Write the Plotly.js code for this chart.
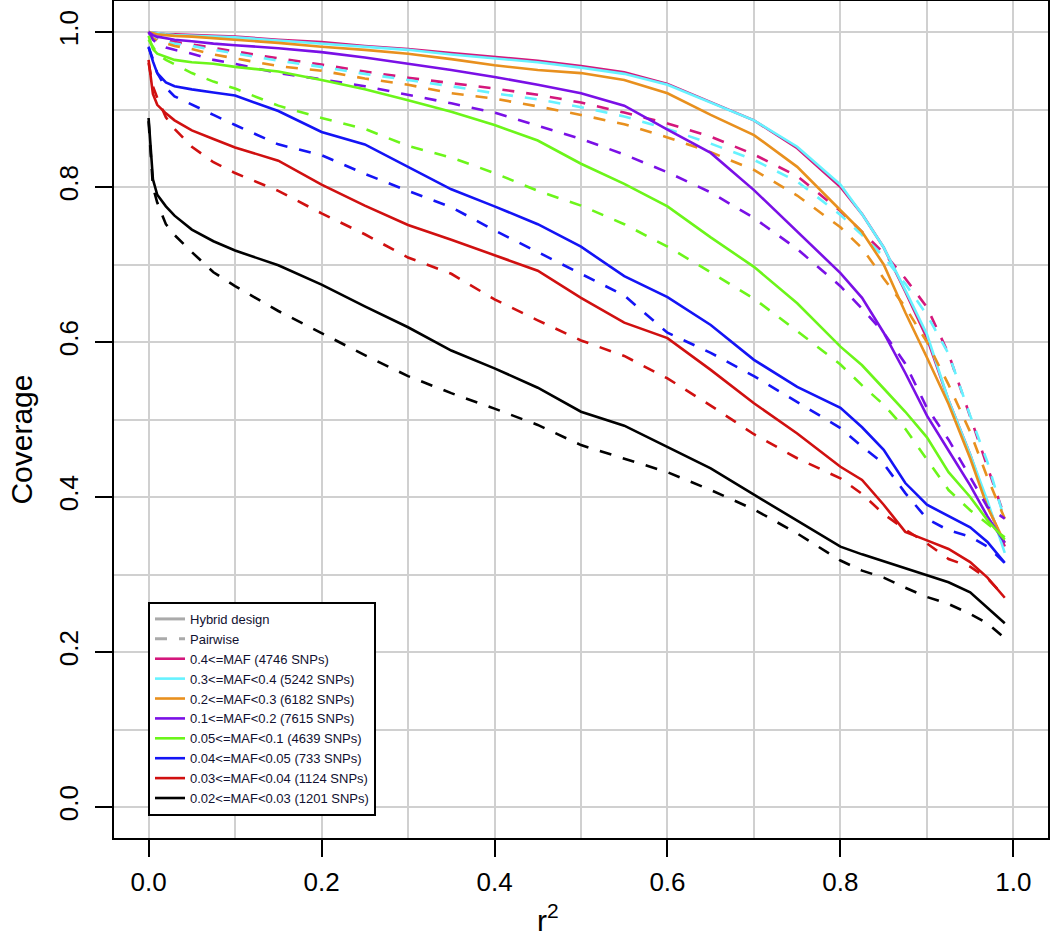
<!DOCTYPE html>
<html>
<head>
<meta charset="utf-8">
<script src="https://cdn.plot.ly/plotly-3.0.1.min.js"></script>
<style>
html,body{margin:0;padding:0;background:#ffffff;}
#chart{width:1050px;height:942px;}
</style>
</head>
<body>
<div id="chart"></div>
<script>
// r^2 threshold values (x axis)
const r2 = [0, 0.005, 0.01, 0.02, 0.03, 0.05, 0.075, 0.1, 0.15, 0.2, 0.25, 0.3, 0.35, 0.4, 0.45, 0.5, 0.55, 0.6, 0.65, 0.7, 0.75, 0.8, 0.825, 0.85, 0.875, 0.9, 0.925, 0.95, 0.97, 0.99];

// Legend labels
const mafLabels = [
  "0.4<=MAF (4746 SNPs)",
  "0.3<=MAF<0.4 (5242 SNPs)",
  "0.2<=MAF<0.3 (6182 SNPs)",
  "0.1<=MAF<0.2 (7615 SNPs)",
  "0.05<=MAF<0.1 (4639 SNPs)",
  "0.04<=MAF<0.05 (733 SNPs)",
  "0.03<=MAF<0.04 (1124 SNPs)",
  "0.02<=MAF<0.03 (1201 SNPs)"
];
const designLabels = ["Hybrid design", "Pairwise"];

// Coverage, Hybrid design (solid lines)
const hybrid_maf40 = [1.0, 0.999, 0.998, 0.997, 0.997, 0.996, 0.995, 0.994, 0.990, 0.987, 0.982, 0.978, 0.973, 0.968, 0.963, 0.956, 0.948, 0.933, 0.910, 0.886, 0.850, 0.800, 0.765, 0.722, 0.665, 0.605, 0.525, 0.455, 0.390, 0.336];
const hybrid_maf30 = [1.0, 0.999, 0.998, 0.997, 0.996, 0.995, 0.994, 0.993, 0.989, 0.985, 0.981, 0.977, 0.971, 0.966, 0.961, 0.954, 0.946, 0.932, 0.909, 0.886, 0.852, 0.803, 0.765, 0.722, 0.667, 0.610, 0.525, 0.455, 0.395, 0.328];
const hybrid_maf20 = [1.0, 0.998, 0.997, 0.996, 0.995, 0.994, 0.992, 0.990, 0.986, 0.981, 0.977, 0.972, 0.965, 0.957, 0.951, 0.947, 0.938, 0.921, 0.893, 0.867, 0.826, 0.770, 0.742, 0.700, 0.638, 0.580, 0.520, 0.450, 0.387, 0.341];
const hybrid_maf10 = [1.0, 0.996, 0.994, 0.992, 0.990, 0.988, 0.985, 0.983, 0.979, 0.974, 0.967, 0.959, 0.951, 0.942, 0.932, 0.921, 0.905, 0.874, 0.844, 0.796, 0.742, 0.689, 0.657, 0.612, 0.560, 0.505, 0.460, 0.415, 0.375, 0.341];
const hybrid_maf05 = [0.995, 0.978, 0.972, 0.968, 0.964, 0.961, 0.959, 0.955, 0.949, 0.938, 0.926, 0.912, 0.897, 0.880, 0.860, 0.830, 0.804, 0.775, 0.735, 0.697, 0.650, 0.594, 0.570, 0.540, 0.510, 0.477, 0.432, 0.400, 0.370, 0.345];
const hybrid_maf04 = [0.981, 0.962, 0.947, 0.935, 0.930, 0.926, 0.922, 0.918, 0.898, 0.871, 0.855, 0.826, 0.797, 0.775, 0.752, 0.723, 0.685, 0.658, 0.622, 0.577, 0.542, 0.515, 0.490, 0.461, 0.418, 0.390, 0.375, 0.361, 0.342, 0.315];
const hybrid_maf03 = [0.964, 0.920, 0.906, 0.895, 0.886, 0.873, 0.862, 0.851, 0.834, 0.803, 0.776, 0.751, 0.732, 0.712, 0.692, 0.657, 0.625, 0.605, 0.564, 0.521, 0.482, 0.439, 0.422, 0.390, 0.355, 0.344, 0.333, 0.316, 0.296, 0.270];
const hybrid_maf02 = [0.889, 0.810, 0.790, 0.775, 0.763, 0.745, 0.730, 0.718, 0.699, 0.674, 0.646, 0.619, 0.589, 0.566, 0.541, 0.510, 0.492, 0.465, 0.437, 0.403, 0.370, 0.336, 0.326, 0.317, 0.308, 0.300, 0.290, 0.277, 0.257, 0.237];

// Coverage, Pairwise (dashed lines)
const pairwise_maf40 = [1.0, 0.994, 0.992, 0.989, 0.987, 0.984, 0.979, 0.975, 0.966, 0.958, 0.949, 0.941, 0.934, 0.927, 0.919, 0.909, 0.896, 0.882, 0.865, 0.842, 0.814, 0.769, 0.742, 0.715, 0.682, 0.645, 0.585, 0.503, 0.437, 0.374];
const pairwise_maf30 = [1.0, 0.993, 0.990, 0.987, 0.985, 0.982, 0.977, 0.972, 0.963, 0.955, 0.946, 0.938, 0.930, 0.921, 0.913, 0.903, 0.891, 0.875, 0.856, 0.835, 0.807, 0.764, 0.738, 0.710, 0.675, 0.635, 0.585, 0.505, 0.445, 0.370];
const pairwise_maf20 = [1.0, 0.992, 0.989, 0.985, 0.982, 0.978, 0.971, 0.966, 0.956, 0.950, 0.940, 0.932, 0.921, 0.914, 0.904, 0.893, 0.881, 0.864, 0.845, 0.822, 0.789, 0.748, 0.721, 0.682, 0.645, 0.600, 0.545, 0.484, 0.425, 0.372];
const pairwise_maf10 = [1.0, 0.990, 0.985, 0.980, 0.977, 0.972, 0.964, 0.959, 0.947, 0.939, 0.930, 0.919, 0.908, 0.896, 0.879, 0.862, 0.842, 0.819, 0.793, 0.760, 0.720, 0.672, 0.643, 0.612, 0.572, 0.515, 0.474, 0.426, 0.387, 0.372];
const pairwise_maf05 = [0.990, 0.980, 0.972, 0.964, 0.958, 0.947, 0.936, 0.927, 0.905, 0.889, 0.875, 0.853, 0.838, 0.818, 0.795, 0.776, 0.752, 0.723, 0.690, 0.656, 0.614, 0.571, 0.544, 0.519, 0.488, 0.448, 0.409, 0.383, 0.366, 0.348];
const pairwise_maf04 = [0.980, 0.965, 0.947, 0.928, 0.917, 0.906, 0.893, 0.880, 0.855, 0.841, 0.817, 0.795, 0.774, 0.744, 0.716, 0.689, 0.660, 0.612, 0.586, 0.556, 0.523, 0.489, 0.465, 0.443, 0.405, 0.372, 0.357, 0.349, 0.336, 0.315];
const pairwise_maf03 = [0.960, 0.930, 0.915, 0.890, 0.875, 0.852, 0.832, 0.818, 0.795, 0.766, 0.739, 0.709, 0.688, 0.655, 0.628, 0.602, 0.582, 0.553, 0.518, 0.481, 0.450, 0.424, 0.404, 0.378, 0.358, 0.340, 0.320, 0.310, 0.295, 0.271];
const pairwise_maf02 = [0.885, 0.800, 0.780, 0.752, 0.738, 0.716, 0.690, 0.672, 0.640, 0.611, 0.583, 0.556, 0.534, 0.514, 0.493, 0.467, 0.450, 0.432, 0.409, 0.384, 0.353, 0.318, 0.305, 0.296, 0.283, 0.271, 0.262, 0.249, 0.237, 0.218];

const hybridSeries = [hybrid_maf40, hybrid_maf30, hybrid_maf20, hybrid_maf10, hybrid_maf05, hybrid_maf04, hybrid_maf03, hybrid_maf02];
const pairwiseSeries = [pairwise_maf40, pairwise_maf30, pairwise_maf20, pairwise_maf10, pairwise_maf05, pairwise_maf04, pairwise_maf03, pairwise_maf02];

const xTicks = [0, 0.2, 0.4, 0.6, 0.8, 1.0];
const xTickText = ["0.0", "0.2", "0.4", "0.6", "0.8", "1.0"];
const yTicks = [0, 0.2, 0.4, 0.6, 0.8, 1.0];
const yTickText = ["0.0", "0.2", "0.4", "0.6", "0.8", "1.0"];

// styles
const colors = ["#d4177c", "#66f2ff", "#e8901e", "#7a10e6", "#6cf51a", "#1414f5", "#d01010", "#000000"];
const FONT = "Liberation Sans, Arial, Helvetica, sans-serif";
const DASH = "12px,12px";
const LW = 2.6;

const traces = [];
// legend-only design entries
traces.push({x: [null], y: [null], type: "scatter", mode: "lines", name: designLabels[0],
  line: {color: "#aaaaaa", width: 3}, hoverinfo: "skip"});
traces.push({x: [null], y: [null], type: "scatter", mode: "lines", name: designLabels[1],
  line: {color: "#aaaaaa", width: 3, dash: DASH}, hoverinfo: "skip"});

for (let i = 0; i < mafLabels.length; i++) {
  traces.push({x: r2, y: hybridSeries[i], type: "scatter", mode: "lines", name: mafLabels[i],
    line: {color: colors[i], width: LW}, showlegend: true});
  traces.push({x: r2, y: pairwiseSeries[i], type: "scatter", mode: "lines", name: mafLabels[i] + " pairwise",
    line: {color: colors[i], width: LW, dash: DASH}, showlegend: false});
}

const gridColor = "#d0d0d0";
const axisCommon = {
  range: [-0.04, 1.04],
  showline: true, mirror: true, linecolor: "#000000", linewidth: 2,
  ticks: "outside", ticklen: 17, tickwidth: 2, tickcolor: "#000000",
  showgrid: true, gridcolor: gridColor, gridwidth: 2,
  zeroline: false,
  minor: {dtick: 0.1, tick0: 0, showgrid: true, gridcolor: gridColor, gridwidth: 2, ticks: ""},
  tickfont: {family: FONT, size: 26, color: "#000000"}
};

const layout = {
  width: 1050, height: 942,
  margin: {l: 114, r: 2, t: 1, b: 104},
  paper_bgcolor: "#ffffff", plot_bgcolor: "#ffffff",
  showlegend: true,
  xaxis: Object.assign({}, axisCommon, {
    tickmode: "array", tickvals: xTicks, ticktext: xTickText, ticklabelstandoff: 3
  }),
  yaxis: Object.assign({}, axisCommon, {
    tickmode: "array", tickvals: yTicks, ticktext: yTickText, tickangle: -90, ticklabelstandoff: 7
  }),
  legend: {
    x: 0.0364, y: 0.282, xanchor: "left", yanchor: "top",
    bgcolor: "#ffffff", bordercolor: "#000000", borderwidth: 2,
    font: {family: FONT, size: 13, color: "#101030"},
    itemwidth: 30, tracegroupgap: 0
  },
  annotations: [
    {text: "Coverage", xref: "paper", yref: "paper", x: -0.1, y: 0.4755,
     xanchor: "center", yanchor: "middle", textangle: -90, showarrow: false,
     font: {family: FONT, size: 30, color: "#000000"}},
    {text: "r<sup>2</sup>", xref: "paper", yref: "paper", x: 0.4647, y: -0.096,
     xanchor: "center", yanchor: "middle", showarrow: false,
     font: {family: FONT, size: 30, color: "#000000"}}
  ]
};

Plotly.newPlot("chart", traces, layout, {displayModeBar: false, staticPlot: true});
</script>
</body>
</html>
